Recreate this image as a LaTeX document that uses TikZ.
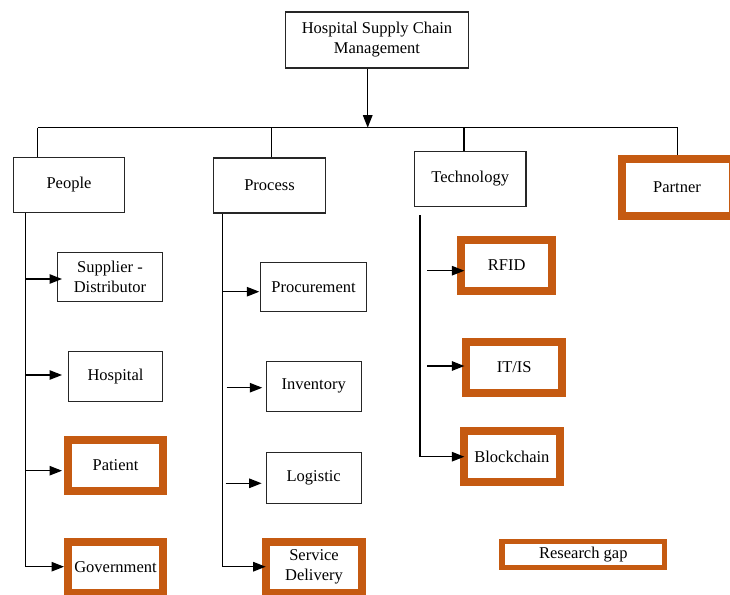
\documentclass[tikz,border=0pt]{standalone}
\usepackage{fontspec}
\setmainfont{Liberation Serif}
\usetikzlibrary{arrows.meta}
\definecolor{gaporange}{RGB}{197,90,17}
\begin{document}
\begin{tikzpicture}[x=1pt,y=-1pt,
  lbl/.style={font=\fontsize{16.5}{20}\selectfont, align=center, inner sep=0pt},
  plainbox/.style={lbl, draw=black!85, line width=1.1pt},
  gapbox/.style={lbl, draw=gaporange, line width=8pt},
  link/.style={line width=1.2pt, draw=black},
  arr/.style={link, -{Triangle[length=12.5pt,width=9.5pt]}}]
\useasboundingbox (0,0) rectangle (730,594);

% top
\node[plainbox, minimum width=183pt, minimum height=56pt] (top) at (377,40) {Hospital Supply Chain\\Management};

% level 1
\node[plainbox, minimum width=111.5pt, minimum height=55.5pt] (people) at (69,185) {People};
\node[plainbox, minimum width=111.5pt, minimum height=55pt] (process) at (269.5,185.5) {Process};
\node[plainbox, minimum width=111.5pt, minimum height=55.5pt] (tech) at (470.2,179) {Technology};
\node[gapbox, minimum width=111pt, minimum height=57pt] (partner) at (677,187.5) {Partner};

% people children
\node[plainbox, minimum width=105.5pt, minimum height=49.5pt] (sup) at (110,277) {Supplier -\\Distributor};
\node[plainbox, minimum width=94.5pt, minimum height=50pt] (hosp) at (115.5,376.2) {Hospital};
\node[gapbox, minimum width=95pt, minimum height=51.3pt] (patient) at (115.5,465.3) {Patient};
\node[gapbox, minimum width=95pt, minimum height=51.3pt] (gov) at (115.5,567.3) {Government};

% process children
\node[plainbox, minimum width=105.3pt, minimum height=49.5pt] (proc) at (313.5,287) {Procurement};
\node[plainbox, minimum width=95pt, minimum height=50.3pt] (inv) at (313.7,386.3) {Inventory};
\node[plainbox, minimum width=95pt, minimum height=50.3pt] (logi) at (313.7,478) {Logistic};
\node[gapbox, minimum width=96pt, minimum height=51.3pt] (serv) at (314,567.3) {Service\\Delivery};

% technology children
\node[gapbox, minimum width=90.7pt, minimum height=51pt] (rfid) at (506.7,265.5) {RFID};
\node[gapbox, minimum width=95.7pt, minimum height=51pt] (itis) at (514.2,367.2) {IT/IS};
\node[gapbox, minimum width=95.7pt, minimum height=50.7pt] (block) at (511.9,456.7) {Blockchain};

% legend
\node[lbl, draw=gaporange, line width=5.7pt, minimum width=162.3pt, minimum height=25.9pt] (gap) at (583.3,554.5) {Research gap};

% bus
\coordinate (busL) at (37.7,127.7);
\coordinate (busR) at (677.7,127.7);
\coordinate (busM) at (367.7,127.7);
\coordinate (busP) at (271.7,127.7);
\coordinate (busT) at (464,127.7);
\draw[arr] (top.south -| busM) -- (busM);
\draw[link] (busL) -- (busR);
\draw[link] (busL) -- (busL |- people.north);
\draw[link] (busP) -- (busP |- process.north);
\draw[link] (busT) -- (busT |- tech.north);
\draw[link] (busR) -- (busR |- partner.north);

% people trunk
\coordinate (pEnd) at (25.7,566.7);
\coordinate (p1) at (25.7,279);
\coordinate (p2) at (25.7,375);
\coordinate (p3) at (25.7,470.7);
\draw[arr] (people.south -| pEnd) -- (pEnd) -- (pEnd -| gov.west);
\draw[arr, shorten >=-5.3pt] (p1) -- (p1 -| sup.west);
\draw[arr, shorten >=5.7pt] (p2) -- (p2 -| hosp.west);
\draw[arr, shorten >=2pt] (p3) -- (p3 -| patient.west);

% process trunk
\coordinate (qEnd) at (222.3,566.7);
\coordinate (q1) at (222.3,291.7);
\coordinate (q2) at (226.7,387.7);
\coordinate (q3) at (225.7,483.3);
\draw[arr, shorten >=-3.7pt] (process.south -| qEnd) -- (qEnd) -- (qEnd -| serv.west);
\draw[arr, shorten >=1pt] (q1) -- (q1 -| proc.west);
\draw[arr, shorten >=3.4pt] (q2) -- (q2 -| inv.west);
\draw[arr, shorten >=4pt] (q3) -- (q3 -| logi.west);

% technology trunk
\coordinate (tEnd) at (420,456.7);
\coordinate (t1) at (427.3,270.7);
\coordinate (t2) at (427.3,366);
\draw[arr, shorten >=-4.3pt] ([yshift=-8pt]tech.south -| tEnd) -- (tEnd) -- (tEnd -| block.west);
\draw[arr, shorten >=-7pt] (t1) -- (t1 -| rfid.west);
\draw[arr, shorten >=-2pt] (t2) -- (t2 -| itis.west);
\end{tikzpicture}
\end{document}
